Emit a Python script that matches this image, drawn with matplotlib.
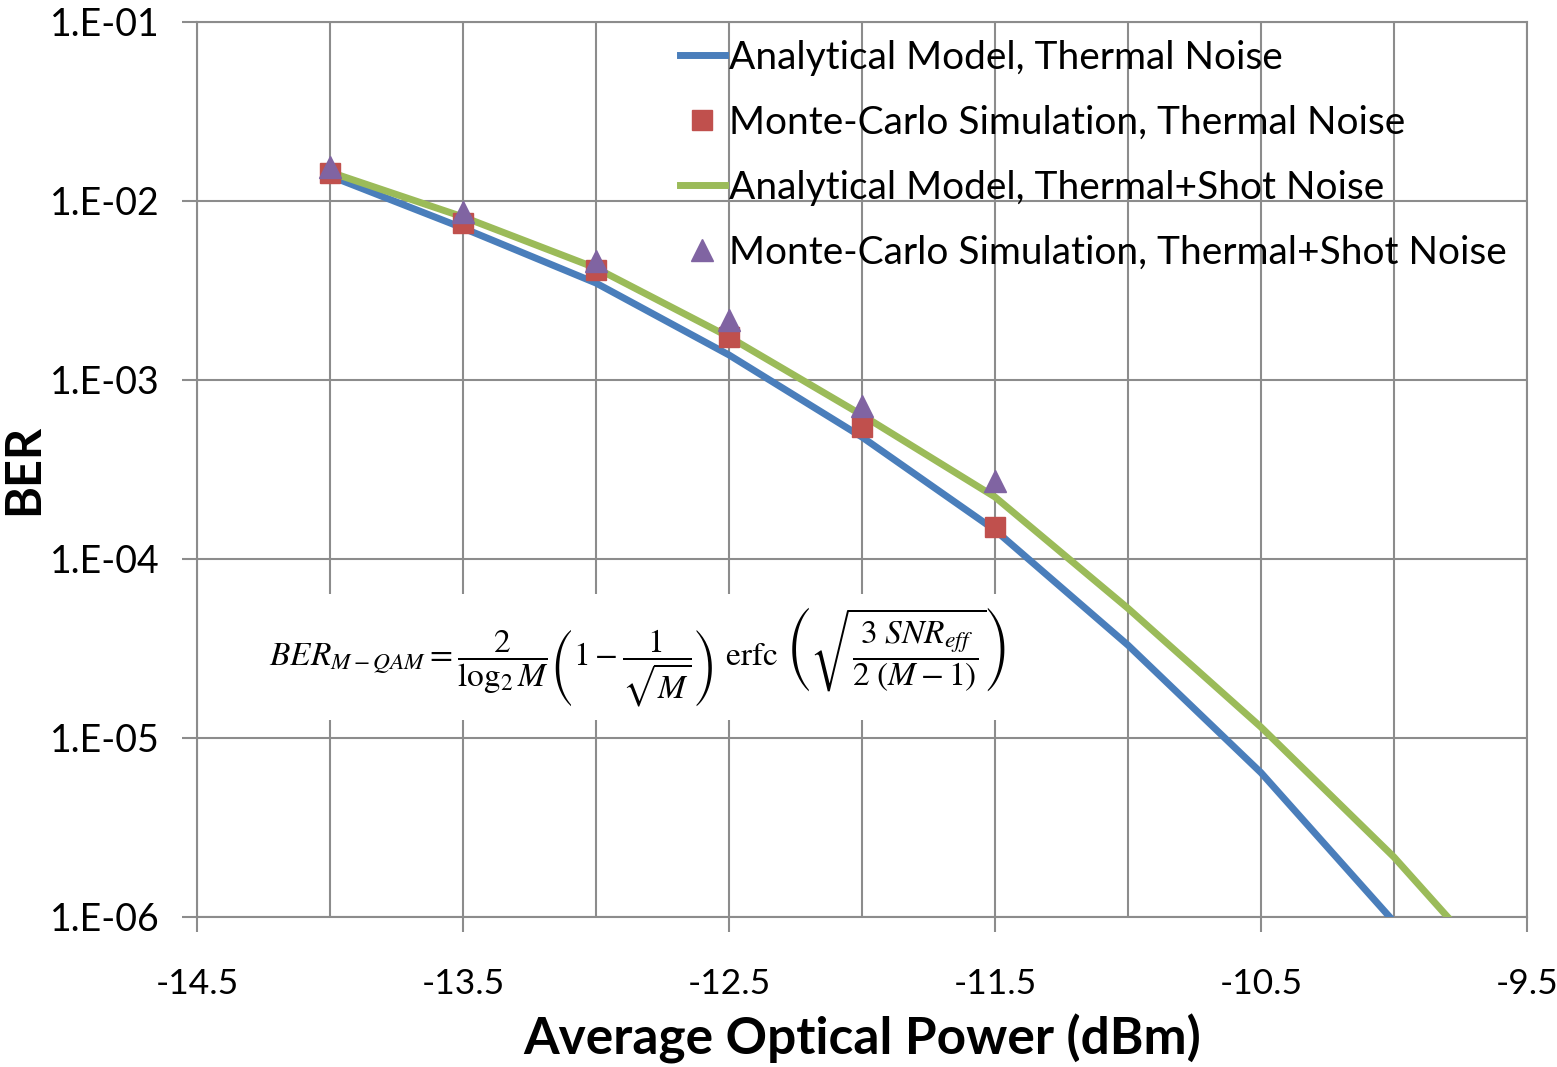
import numpy as np
import matplotlib.pyplot as plt
from matplotlib.ticker import FixedLocator, FuncFormatter

plt.rcParams['font.family'] = ['Lato', 'DejaVu Sans']
plt.rcParams['axes.unicode_minus'] = False
plt.rcParams['mathtext.fontset'] = 'stix'

# --- data ---
power_line = [-14.0, -13.5, -13.0, -12.5, -12.0, -11.5, -11.0, -10.5, -10.0, -9.5]
ber_thermal = [1.38e-2, 7.06e-3, 3.48e-3, 1.38e-3, 4.8e-4, 1.45e-4, 3.3e-5, 6.4e-6, 9.4e-7, 1.3e-7]
ber_thermal_shot = [1.45e-2, 8.15e-3, 4.22e-3, 1.74e-3, 6.37e-4, 2.22e-4, 5.3e-5, 1.15e-5, 2.16e-6, 3.2e-7]

power_mc = [-14.0, -13.5, -13.0, -12.5, -12.0, -11.5]
mc_thermal = [1.43e-2, 7.5e-3, 4.1e-3, 1.74e-3, 5.46e-4, 1.51e-4]
mc_thermal_shot = [1.55e-2, 8.7e-3, 4.62e-3, 2.16e-3, 7.2e-4, 2.73e-4]

x_ticks = [-14.5, -13.5, -12.5, -11.5, -10.5, -9.5]
y_ticks = [1e-6, 1e-5, 1e-4, 1e-3, 1e-2, 1e-1]

fig = plt.figure(figsize=(15.57, 10.67), dpi=100)
ax = fig.add_axes([197 / 1557, 1 - 917 / 1067, (1527 - 197) / 1557, (917 - 22) / 1067])

ax.plot(power_line, ber_thermal, color='#4A7EBB', lw=5, label='Analytical Model, Thermal Noise', zorder=3)
ax.plot(power_mc, mc_thermal, ls='none', marker='s', ms=14, color='#C0504D',
        label='Monte-Carlo Simulation, Thermal Noise', zorder=4)
ax.plot(power_line, ber_thermal_shot, color='#9BBB59', lw=5, label='Analytical Model, Thermal+Shot Noise', zorder=3)
ax.plot(power_mc, mc_thermal_shot, ls='none', marker='^', ms=16, color='#8064A2',
        label='Monte-Carlo Simulation, Thermal+Shot Noise', zorder=5)

ax.set_yscale('log')
ax.set_xlim(-14.5, -9.5)
ax.set_ylim(1e-6, 1e-1)
ax.xaxis.set_major_locator(FixedLocator(x_ticks))
ax.yaxis.set_major_locator(FixedLocator(y_ticks))
ax.yaxis.set_minor_locator(FixedLocator([]))
ax.yaxis.set_major_formatter(FuncFormatter(lambda v, p: '1.E%+03d' % int(round(np.log10(v)))))
ax.xaxis.set_major_formatter(FuncFormatter(lambda v, p: '%.1f' % v))

# minor vertical grid at the half steps
ax.set_xticks([-14, -13, -12, -11, -10], minor=True)
ax.grid(True, which='both', color='#8C8C8C', lw=1.5)
ax.tick_params(which='minor', length=0)
ax.tick_params(which='major', labelsize=27, length=11, width=1.5, color='#8C8C8C')
ax.tick_params(axis='x', pad=26, labelsize=25.5)
ax.tick_params(axis='y', pad=16)
for s in ax.spines.values():
    s.set_color('#8C8C8C')
    s.set_linewidth(1.5)

ax.set_xlabel('Average Optical Power (dBm)', fontsize=37, fontweight='bold', labelpad=10)
ax.set_ylabel('BER', fontsize=35, fontweight='bold')
ax.yaxis.set_label_coords((46 - 197) / 1330, 0.5)

ax.legend(loc='upper left', bbox_to_anchor=(680 / 1557, 1 - 40 / 1067), bbox_transform=fig.transFigure,
          frameon=False, fontsize=28, borderpad=0, borderaxespad=0, handlelength=1.15,
          handletextpad=0.12, labelspacing=0.74, numpoints=1)

formula = (r'$BER_{M-QAM} = \dfrac{2}{\log_2 M}\left(1-\dfrac{1}{\sqrt{M}}\right)\ \mathrm{erfc}\ '
           r'\left(\sqrt{\dfrac{3\ SNR_{eff}}{2\ (M-1)}}\right)$')
fig.text(637 / 1557, 1 - 657 / 1067, formula, ha='center', va='center', fontsize=24,
         bbox=dict(facecolor='white', edgecolor='none', pad=8), zorder=10)

fig.savefig('out.png', dpi=100)
